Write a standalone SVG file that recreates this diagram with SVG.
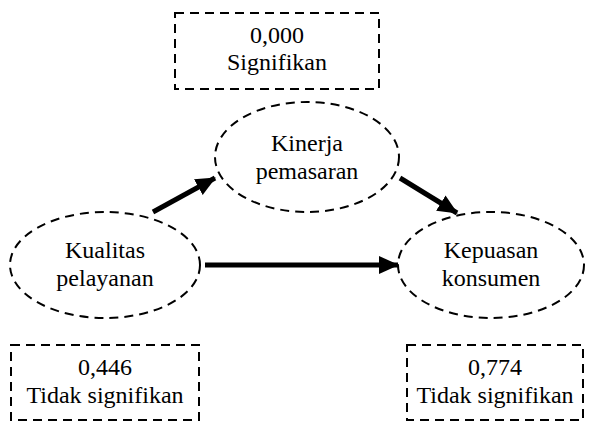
<svg xmlns="http://www.w3.org/2000/svg" width="592" height="426" viewBox="0 0 592 426">
<style>
.box{fill:none;stroke:#000;stroke-width:2;stroke-dasharray:9 6}
.ell{fill:none;stroke:#000;stroke-width:2;stroke-dasharray:9 6}
.t{font-family:"Liberation Serif","DejaVu Serif",serif;font-size:24px;fill:#000;text-anchor:middle}
.arr{stroke:#000;stroke-width:5;fill:none}
</style>
<defs>
<marker id="ah" markerUnits="userSpaceOnUse" markerWidth="20" markerHeight="18" refX="19" refY="9" orient="auto">
<path d="M0,0 L20,9 L0,18 Z" fill="#000"/>
</marker>
</defs>
<rect width="592" height="426" fill="#fff"/>
<g id="sig-top">
<rect class="box" x="175" y="13" width="204" height="76"/>
<text class="t" x="277" y="43">0,000</text>
<text class="t" x="277" y="70">Signifikan</text>
</g>
<g id="kinerja">
<ellipse class="ell" cx="307" cy="157" rx="92" ry="55"/>
<text class="t" x="307" y="151">Kinerja</text>
<text class="t" x="307" y="179">pemasaran</text>
</g>
<g id="kualitas">
<ellipse class="ell" cx="105" cy="265" rx="95" ry="53"/>
<text class="t" x="105" y="258">Kualitas</text>
<text class="t" x="105" y="286">pelayanan</text>
</g>
<g id="kepuasan">
<ellipse class="ell" cx="491" cy="265" rx="93" ry="53"/>
<text class="t" x="491" y="258">Kepuasan</text>
<text class="t" x="491" y="286">konsumen</text>
</g>
<g id="sig-left">
<rect class="box" x="11" y="345" width="188" height="75"/>
<text class="t" x="105" y="375">0,446</text>
<text class="t" x="105" y="403">Tidak signifikan</text>
</g>
<g id="sig-right">
<rect class="box" x="407" y="345" width="176" height="75"/>
<text class="t" x="495" y="375">0,774</text>
<text class="t" x="495" y="403">Tidak signifikan</text>
</g>
<g id="connectors">
<line class="arr" x1="153" y1="212" x2="215" y2="178" marker-end="url(#ah)"/>
<line class="arr" x1="400" y1="178" x2="457" y2="213" marker-end="url(#ah)"/>
<line class="arr" x1="205" y1="265" x2="398" y2="265" marker-end="url(#ah)"/>
</g>
</svg>
